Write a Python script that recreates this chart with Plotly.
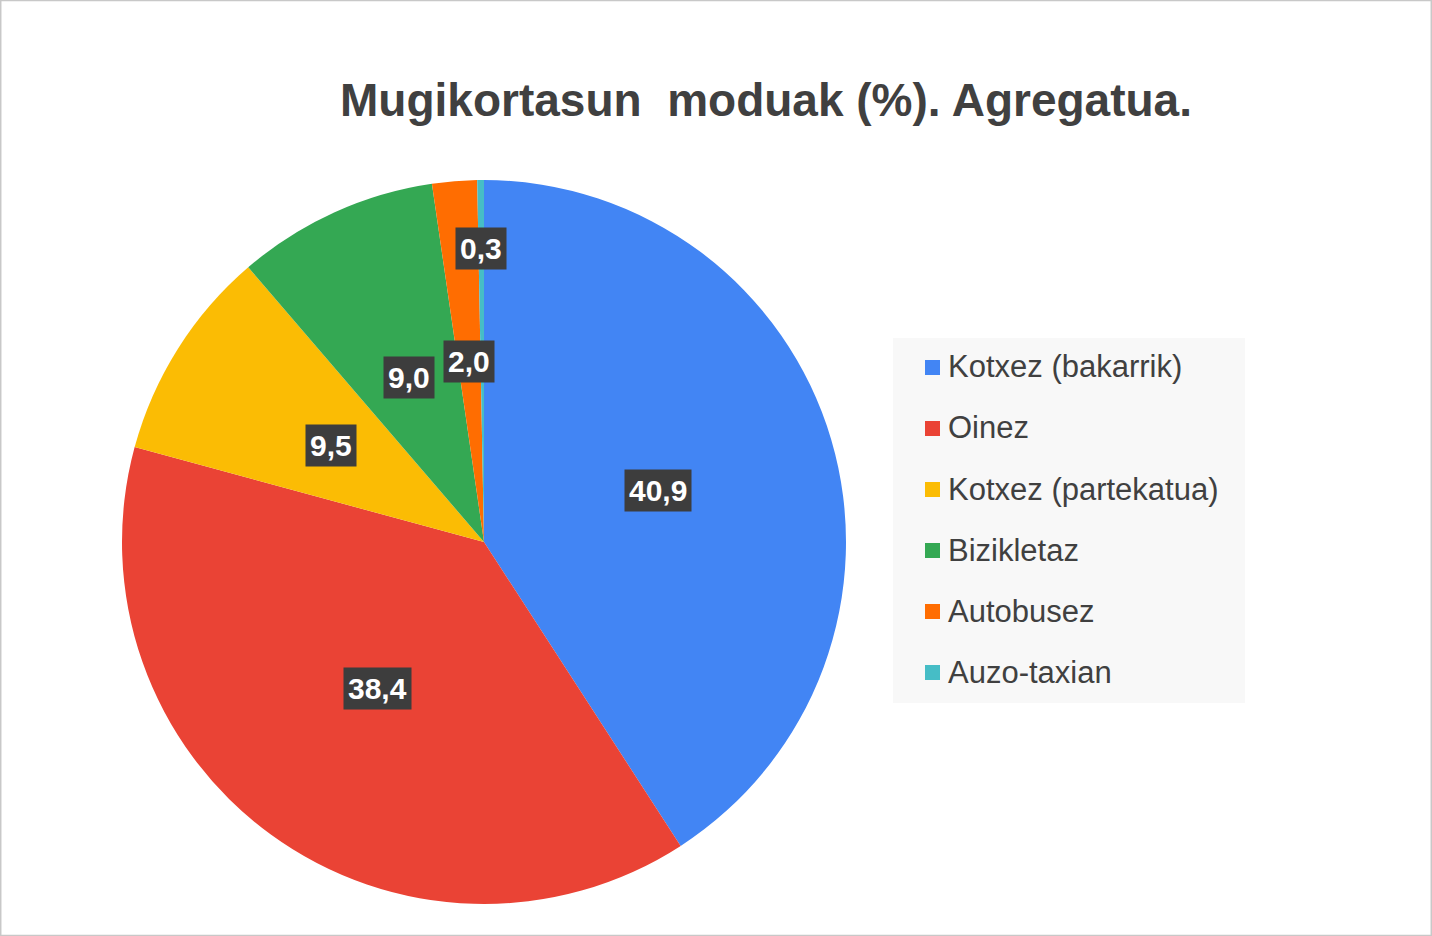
import math
import plotly.graph_objects as go

W, H = 1432, 936

# ---- data ----
categories = ["Kotxez (bakarrik)", "Oinez", "Kotxez (partekatua)", "Bizikletaz", "Autobusez", "Auzo-taxian"]
values = [40.9, 38.4, 9.5, 9.0, 2.0, 0.3]
colors = ["#4285F4", "#EA4335", "#FBBC04", "#34A853", "#FF6D01", "#46BDC6"]
title_text = "Mugikortasun  moduak (%). Agregatua."

# ---- style ----
label_radius = [0.5, 0.5, 0.5, 0.5, 0.5, 0.81]   # fraction of pie radius for each data label
cx, cy, R = 484, 542, 362                        # pie centre / radius in pixels
FONT = "Liberation Sans, Arial, sans-serif"
TXT = "#404040"

fig = go.Figure(go.Pie(
    labels=categories, values=values, sort=False, direction="clockwise", rotation=0,
    marker=dict(colors=colors, line=dict(color="white", width=0)),
    textinfo="none", hoverinfo="label+value", showlegend=False,
    domain=dict(x=[(cx - R) / W, (cx + R) / W], y=[1 - (cy + R) / H, 1 - (cy - R) / H]),
))

annotations = []
shapes = []

# data labels with dark boxes, positioned from the slice angles
total = sum(values)
cum = 0.0
for v, rf in zip(values, label_radius):
    theta = 2 * math.pi * (cum + v / 2) / total
    cum += v
    px = cx + rf * R * math.sin(theta)
    py = cy - rf * R * math.cos(theta)
    annotations.append(dict(
        x=px / W, y=1 - py / H, xref="paper", yref="paper", showarrow=False,
        text="<b>" + f"{v:.1f}".replace(".", ",") + "</b>",
        font=dict(family=FONT, size=30, color="white"),
        bgcolor="#3d3d3d", borderpad=4, xanchor="center", yanchor="middle",
    ))

# custom legend
lx0, lx1, ly0, ly1 = 893, 1245, 338, 703
shapes.append(dict(type="rect", xref="paper", yref="paper",
                   x0=lx0 / W, x1=lx1 / W, y0=1 - ly1 / H, y1=1 - ly0 / H,
                   fillcolor="#f8f8f8", line=dict(width=0), layer="below"))
first_y, step = 367, 61
for i, (name, col) in enumerate(zip(categories, colors)):
    yy = first_y + i * step
    shapes.append(dict(type="rect", xref="paper", yref="paper",
                       x0=925 / W, x1=940 / W, y0=1 - (yy + 8) / H, y1=1 - (yy - 7) / H,
                       fillcolor=col, line=dict(width=0)))
    annotations.append(dict(
        x=946 / W, y=1 - yy / H, xref="paper", yref="paper", showarrow=False,
        text=name, font=dict(family=FONT, size=31, color=TXT),
        xanchor="left", yanchor="middle",
    ))

# outer frame
shapes.append(dict(type="rect", xref="paper", yref="paper", x0=0.0005, x1=0.9995, y0=0.0005, y1=0.9995,
                   line=dict(color="#c8c8c8", width=1.5), fillcolor="rgba(0,0,0,0)"))

fig.update_layout(
    width=W, height=H,
    margin=dict(l=0, r=0, t=0, b=0),
    paper_bgcolor="white", plot_bgcolor="white",
    title=dict(text="<b>" + title_text + "</b>", x=766 / W, y=1 - 100 / H,
               xanchor="center", yanchor="middle",
               font=dict(family=FONT, size=46, color=TXT)),
    annotations=annotations, shapes=shapes,
    showlegend=False,
)

fig.write_html("out.html", config={"displayModeBar": False},
               post_script="document.body.style.margin='0';document.body.style.overflow='hidden';")
